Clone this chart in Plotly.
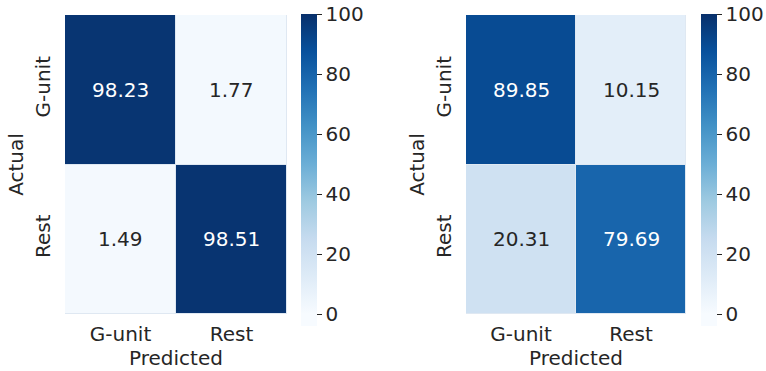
import plotly.graph_objects as go

# Confusion matrices (percent), rows = actual, columns = predicted
classes = ["G-unit", "Rest"]
cm_left = [[98.23, 1.77],
           [1.49, 98.51]]
cm_right = [[89.85, 10.15],
            [20.31, 79.69]]
cbar_ticks = [0, 20, 40, 60, 80, 100]

W, H = 766, 371
FONT = "DejaVu Sans"
TXT = "#262626"
FS = 20

# Blues mapped onto 0..100; the colour bar runs a little below zero
blues = ["#f7fbff", "#deebf7", "#c6dbef", "#9ecae1", "#6baed6",
         "#4292c6", "#2171b5", "#08519c", "#08306b"]
ZMIN, ZMAX, VMIN = -4, 100, 0
colorscale = [[0.0, blues[0]]]
for i, c in enumerate(blues):
    v = VMIN + (ZMAX - VMIN) * i / (len(blues) - 1)
    colorscale.append([(v - ZMIN) / (ZMAX - ZMIN), c])

fig = go.Figure()

panels = [
    (cm_left, "x", "y", (65, 287), 301),
    (cm_right, "x2", "y2", (466, 686), 701),
]
y_top, y_bot = 15, 314

for k, (cm, xa, ya, (x0, x1), cbx) in enumerate(panels):
    fig.add_trace(go.Heatmap(
        z=cm, x=classes, y=classes, xaxis=xa, yaxis=ya,
        colorscale=colorscale, zmin=ZMIN, zmax=ZMAX,
        xgap=1, ygap=1, hoverinfo="skip",
        colorbar=dict(
            x=cbx / W, xanchor="left", xpad=0, ypad=0,
            y=1 - 14 / H, yanchor="top", lenmode="pixels", len=312,
            thickness=16, outlinewidth=0,
            tickmode="array", tickvals=cbar_ticks,
            ticks="outside", ticklen=5, tickwidth=1.2, tickcolor=TXT,
            tickfont=dict(family=FONT, size=FS, color=TXT),
        ),
    ))
    sfx = "" if k == 0 else str(k + 1)
    fig.layout["xaxis" + sfx] = dict(
        domain=[x0 / W, x1 / W], anchor=ya, showgrid=False, zeroline=False,
        ticks="", ticklabelstandoff=6,
        tickfont=dict(family=FONT, size=FS, color=TXT),
        title=dict(text="Predicted", font=dict(family=FONT, size=FS, color=TXT), standoff=0),
        fixedrange=True,
    )
    fig.layout["yaxis" + sfx] = dict(
        domain=[1 - y_bot / H, 1 - y_top / H], anchor=xa, showgrid=False,
        zeroline=False, autorange="reversed", ticks="", tickangle=-90,
        ticklabelstandoff=10,
        tickfont=dict(family=FONT, size=FS, color=TXT),
        title=dict(text="Actual", font=dict(family=FONT, size=FS, color=TXT), standoff=2),
        fixedrange=True,
    )
    # cell value labels, light text on dark cells
    for i, row in enumerate(cm):
        for j, v in enumerate(row):
            fig.add_annotation(
                x=classes[j], y=classes[i], xref=xa, yref=ya,
                text=f"{v:.2f}", showarrow=False,
                font=dict(family=FONT, size=FS, color="white" if v > 55 else TXT),
            )

fig.update_layout(
    width=W, height=H, margin=dict(l=0, r=0, t=0, b=0),
    paper_bgcolor="white", plot_bgcolor="#dfe8f2",
    showlegend=False,
)
fig.write_html("out.html")
